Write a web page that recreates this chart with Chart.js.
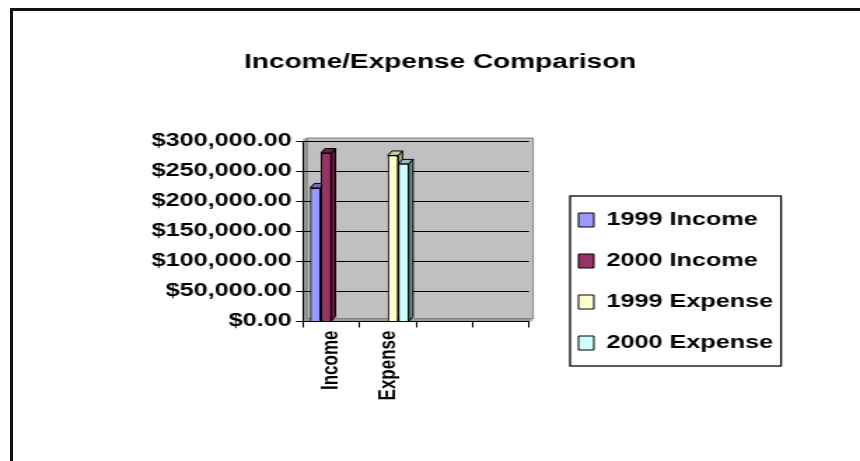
<!DOCTYPE html>
<html lang="en">
<head>
    <meta charset="utf-8">
    <title>Income/Expense Comparison</title>
    <script src="https://cdn.jsdelivr.net/npm/chart.js@4.4.1/dist/chart.umd.min.js"></script>
    <style>
        html, body { margin: 0; padding: 0; overflow: hidden; background: #fff; }
        .frame {
            position: absolute; left: 10px; top: 8px; width: 2000px; height: 2000px;
            border-left: 3px solid #111; border-top: 3px solid #111;
            pointer-events: none;
        }
    </style>
</head>
<body>
    <!-- canvas is drawn 614 wide and stretched to 860, like the old Excel picture -->
    <canvas id="myChart" width="614" height="461" style="display:block;width:860px;height:461px"></canvas>
    <div class="frame"></div>
    <script>
        // data
        var categories = ['Income', 'Expense', '', ''];
        var income1999 = [222000, null, null, null];
        var income2000 = [280000, null, null, null];
        var expense1999 = [null, 276000, null, null];
        var expense2000 = [null, 262000, null, null];
        var seriesNames = ['1999 Income', '2000 Income', '1999 Expense', '2000 Expense'];
        var yTickValues = [0, 50000, 100000, 150000, 200000, 250000, 300000];

        var FONT = "'Liberation Sans', Arial, sans-serif";
        Chart.defaults.font.family = FONT;
        Chart.defaults.color = '#000';

        function money(v) {
            return '$' + Number(v).toLocaleString('en-US', { minimumFractionDigits: 2, maximumFractionDigits: 2 });
        }

        // gray 3d walls behind the plot
        var plotBack = {
            id: 'plotBack',
            beforeDraw: function(chart) {
                var ctx = chart.ctx, a = chart.chartArea;
                var dx = 2.9, dy = 3;
                ctx.save();
                ctx.fillStyle = '#c0c0c0';
                ctx.fillRect(a.left, a.top - dy, a.right - a.left + dx, a.bottom - a.top + dy);
                ctx.fillStyle = '#9a9a9a';
                ctx.beginPath();
                ctx.moveTo(a.left, a.top); ctx.lineTo(a.left + dx, a.top - dy);
                ctx.lineTo(a.left + dx, a.bottom - dy); ctx.lineTo(a.left, a.bottom);
                ctx.closePath(); ctx.fill();
                ctx.beginPath();
                ctx.moveTo(a.left, a.bottom); ctx.lineTo(a.left + dx, a.bottom - dy);
                ctx.lineTo(a.right + dx, a.bottom - dy); ctx.lineTo(a.right, a.bottom);
                ctx.closePath(); ctx.fill();
                ctx.strokeStyle = '#808080';
                ctx.lineWidth = 1;
                ctx.strokeRect(a.left + dx, a.top - dy, a.right - a.left, a.bottom - a.top);
                ctx.restore();
            },
            afterLayout: function(chart) {
                // title centred on the whole picture
                var t = chart.titleBlock;
                t.left = 0; t.right = 628.6; t.width = 628.6;
                // legend to the right of the plot, one column
                var lg = chart.legend;
                lg.maxHeight = 300; lg.maxWidth = 230;
                lg.fit();
                lg.left = 390; lg.top = 188;
                lg.right = lg.left + lg.width; lg.bottom = lg.top + lg.height;
            },
            afterDraw: function(chart) {
                var ctx = chart.ctx, lg = chart.legend;
                ctx.save();
                ctx.strokeStyle = '#000';
                ctx.lineWidth = 1.3;
                ctx.strokeRect(lg.left + 17, lg.top + 8, 150.6, 170);
                ctx.restore();
            }
        };

        // caps and side faces of the columns
        var bar3d = {
            id: 'bar3d',
            afterDatasetsDraw: function(chart) {
                var ctx = chart.ctx, dx = 3, dy = 4.5;
                var bars = [];
                chart.data.datasets.forEach(function(ds, i) {
                    chart.getDatasetMeta(i).data.forEach(function(el, j) {
                        if (ds.data[j] != null) bars.push({ el: el, ds: ds });
                    });
                });
                bars.sort(function(a, b) { return a.el.x - b.el.x; });
                bars.forEach(function(b) {
                    var p = b.el.getProps(['x', 'y', 'base', 'width'], true);
                    var x1 = p.x - p.width / 2, x2 = p.x + p.width / 2;
                    ctx.save();
                    ctx.lineWidth = 1;
                    ctx.strokeStyle = '#000';
                    ctx.fillStyle = b.ds.sideColor;
                    ctx.beginPath();
                    ctx.moveTo(x2, p.y); ctx.lineTo(x2 + dx, p.y - dy);
                    ctx.lineTo(x2 + dx, p.base - dy); ctx.lineTo(x2, p.base);
                    ctx.closePath(); ctx.fill(); ctx.stroke();
                    ctx.fillStyle = b.ds.capColor;
                    ctx.beginPath();
                    ctx.moveTo(x1, p.y); ctx.lineTo(x2, p.y);
                    ctx.lineTo(x2 + dx, p.y - dy); ctx.lineTo(x1 + dx, p.y - dy);
                    ctx.closePath(); ctx.fill(); ctx.stroke();
                    ctx.restore();
                });
                bars.forEach(function(b) { b.el.draw(ctx, chart.chartArea); });
            }
        };

        var ctx = document.getElementById('myChart').getContext('2d');
        var myChart = new Chart(ctx, {
            type: 'bar',
            data: {
                labels: categories,
                datasets: [
                    { label: seriesNames[0], data: income1999, backgroundColor: '#9999ff', capColor: '#6b6bc8', sideColor: '#5c5cb0' },
                    { label: seriesNames[1], data: income2000, backgroundColor: '#993366', capColor: '#6e1f47', sideColor: '#5e1a3c' },
                    { label: seriesNames[2], data: expense1999, backgroundColor: '#ffffcc', capColor: '#c8c89a', sideColor: '#b4b48a' },
                    { label: seriesNames[3], data: expense2000, backgroundColor: '#ccffff', capColor: '#8fbcbc', sideColor: '#6f9999' }
                ].map(function(d) {
                    d.borderColor = '#000';
                    d.borderWidth = 1;
                    d.categoryPercentage = 0.745;
                    d.barPercentage = 1;
                    return d;
                })
            },
            plugins: [plotBack, bar3d],
            options: {
                responsive: false,
                devicePixelRatio: 1,
                animation: false,
                events: [],
                layout: { padding: { left: 0, right: 236.3, top: 0, bottom: 0 } },
                plugins: {
                    title: {
                        display: true,
                        text: 'Income/Expense Comparison',
                        color: '#000',
                        font: { size: 20, weight: 'bold' },
                        padding: { top: 50, bottom: 67 }
                    },
                    legend: {
                        position: 'chartArea',
                        align: 'start',
                        labels: {
                            color: '#000',
                            font: { size: 18, weight: 'bold' },
                            boxWidth: 11,
                            boxHeight: 14,
                            padding: 23
                        }
                    },
                    tooltip: { enabled: false }
                },
                scales: {
                    x: {
                        grid: { drawOnChartArea: false, drawTicks: true, tickLength: 6, color: '#000' },
                        border: { display: true, color: '#000', width: 1 },
                        ticks: { minRotation: 90, maxRotation: 90, autoSkip: false, padding: 3, color: '#000', font: { size: 17, weight: 'bold' } },
                        afterFit: function(s) { s.height = 139.5; }
                    },
                    y: {
                        min: 0,
                        max: 300000,
                        grid: { color: '#000', tickLength: 5 },
                        border: { display: true, color: '#000', width: 1 },
                        ticks: {
                            stepSize: 50000,
                            padding: 3,
                            color: '#000',
                            font: { size: 18, weight: 'bold' },
                            callback: function(v) { return yTickValues.indexOf(v) >= 0 ? money(v) : ''; }
                        },
                        afterFit: function(s) { s.width = 216.3; }
                    }
                }
            }
        });
    </script>
</body>
</html>
